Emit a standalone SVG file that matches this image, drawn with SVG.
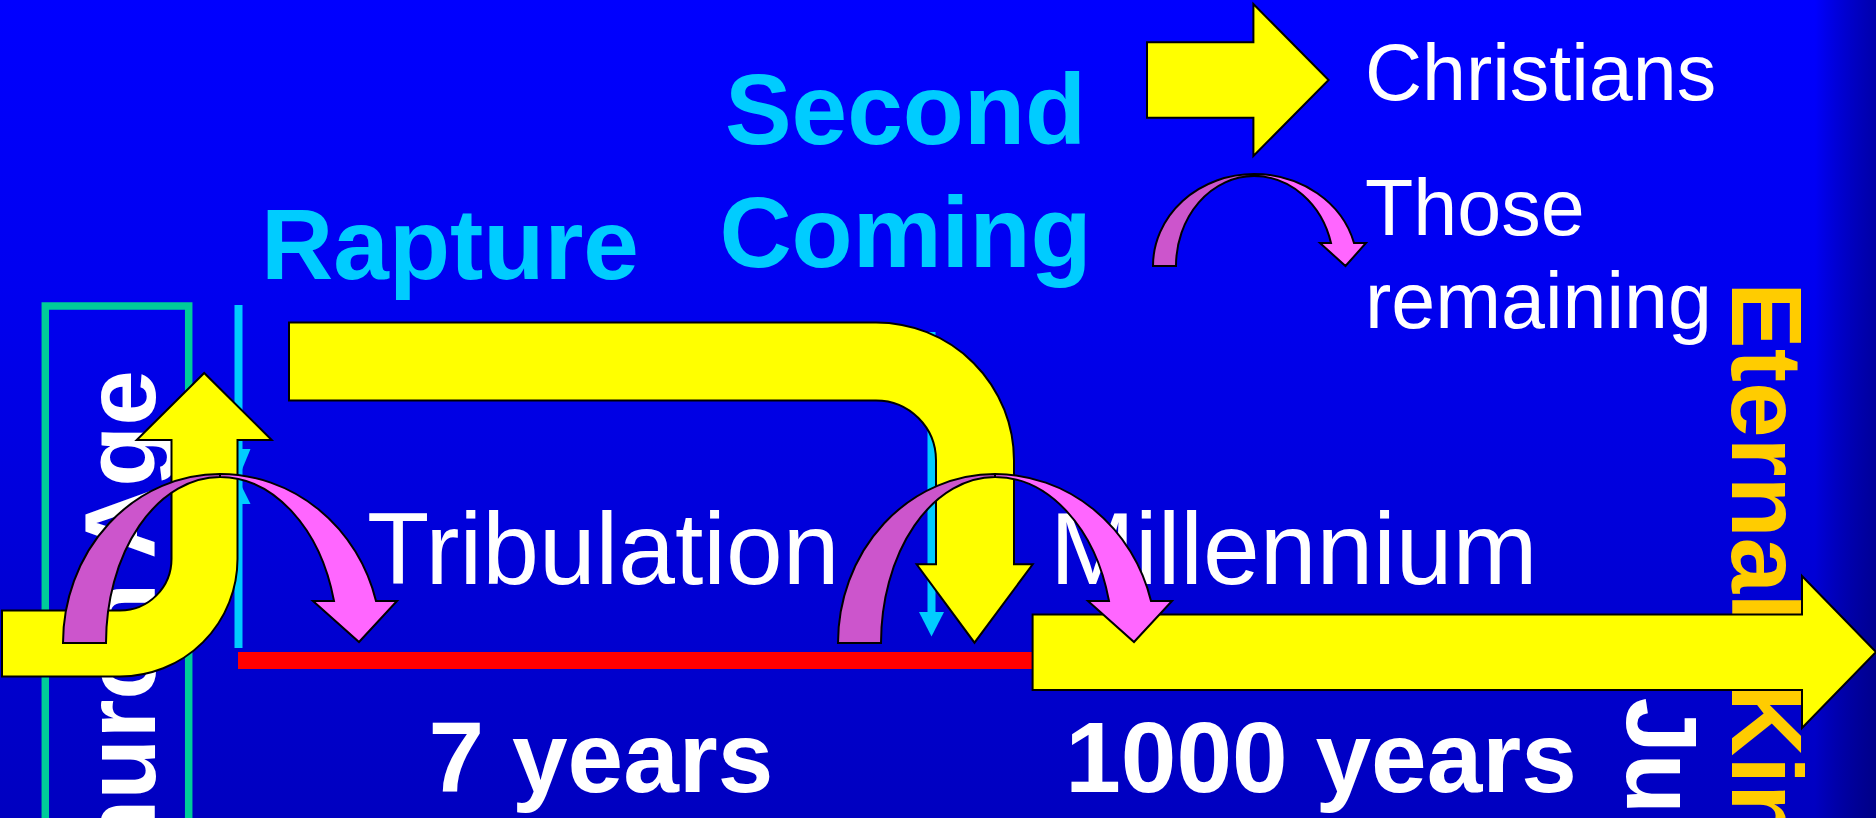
<svg xmlns="http://www.w3.org/2000/svg" xmlns:xlink="http://www.w3.org/1999/xlink" width="1876" height="818" viewBox="0 0 1876 818">
<defs>
  <linearGradient id="bg" x1="0" y1="0" x2="0" y2="1">
    <stop offset="0" stop-color="#0000FF"/>
    <stop offset="0.35" stop-color="#0000F0"/>
    <stop offset="1" stop-color="#0000C0"/>
  </linearGradient>
  <linearGradient id="edge" x1="0" y1="0" x2="1" y2="0">
    <stop offset="0" stop-color="#000000" stop-opacity="0"/>
    <stop offset="1" stop-color="#000030" stop-opacity="0.4"/>
  </linearGradient>
  <style>
    .yel{fill:#FFFF00;stroke:#000000;stroke-width:2;stroke-linejoin:miter}
    .pur{fill:#CC55CC;stroke:#000000;stroke-width:2;stroke-linejoin:miter}
    .pnk{fill:#FF66FF;stroke:#000000;stroke-width:2;stroke-linejoin:miter}
    .cy{stroke:#00CCFF;stroke-width:8;fill:none}
    .cyh{fill:#00CCFF;stroke:none}
    .t{font-family:"Liberation Sans",Arial,Helvetica,sans-serif}
    .b{font-weight:bold}
    .big{font-size:100px}
    .reg{font-size:102px}
    .w{fill:#FFFFFF}
    .c{fill:#00CCFF}
    .g{fill:#FFCC00}
    .leg{font-size:79px}
  </style>
  <g id="jump">
    <path class="pur" d="M63,643 A157,169 0 0 1 220,474 L220,477 A114,166 0 0 0 106,643 Z"/>
    <path class="pnk" d="M220,474 A161,169 0 0 1 376,601 L397,601 L359,642 L313,601 L334,601 A117.8,166 0 0 0 220,477 Z"/>
  </g>
</defs>

<rect x="0" y="0" width="1876" height="818" fill="url(#bg)"/>
<rect x="1815" y="0" width="61" height="818" fill="url(#edge)"/>

<g id="church-age">
  <rect x="45.3" y="306" width="143.4" height="530" fill="none" stroke="#00CC99" stroke-width="7.5"/>
  <text class="t b big w" text-anchor="end" transform="translate(155,370) rotate(-90)">Church Age</text>
</g>

<g id="label-rapture"><text class="t b big c" x="450" y="279" text-anchor="middle">Rapture</text></g>
<g id="label-second-coming">
  <text class="t b big c" x="905.5" y="144" text-anchor="middle">Second</text>
  <text class="t b big c" x="905.5" y="267" text-anchor="middle">Coming</text>
</g>
<g id="label-tribulation"><text class="t reg w" x="367" y="584">Tribulation</text></g>
<g id="label-millennium"><text class="t reg w" x="1050" y="584">Millennium</text></g>
<g id="label-7years"><text class="t b big w" x="601" y="792" text-anchor="middle">7 years</text></g>
<g id="label-1000years"><text class="t b big w" x="1321" y="792" text-anchor="middle">1000 years</text></g>
<g id="label-eternal"><text class="t b big g" transform="translate(1732,282) rotate(90)">Eternal <tspan x="402">Kingdom</tspan></text></g>
<g id="label-judgment"><text class="t b big w" transform="translate(1627,697.6) rotate(90)">Judgment</text></g>

<g id="legend">
  <path class="yel" d="M1147,42.3 L1253.4,42.3 L1253.4,4 L1328.6,80 L1253.4,156 L1253.4,117.7 L1147,117.7 Z"/>
  <text class="t leg w" x="1365" y="100">Christians</text>
  <path class="pur" d="M1153,266 A101,92 0 0 1 1254,174 L1254,176 A78,90 0 0 0 1176,266 Z"/>
  <path class="pnk" d="M1254,174 A103.3,92 0 0 1 1354,243 L1366,243 L1345.5,266 L1320,243 L1331,243 A79.6,90 0 0 0 1254,176 Z"/>
  <text class="t leg w" x="1365" y="235">Those</text>
  <text class="t leg w" x="1365" y="328">remaining</text>
</g>

<g id="connectors">
  <rect id="timeline" x="238" y="652" width="797" height="17" fill="#FF0000"/>
  <g id="cyan-rapture">
    <line class="cy" x1="238.5" y1="305" x2="238.5" y2="648"/>
    <polygon class="cyh" points="226.5,449 250.5,449 238.5,478"/>
    <polygon class="cyh" points="238.5,480 250.5,504 226.5,504"/>
  </g>
  <g id="cyan-second">
    <line class="cy" x1="931.5" y1="332" x2="931.5" y2="614"/>
    <polygon class="cyh" points="919,612 944,612 931.5,636.5"/>
  </g>
  <path id="arrow-up" class="yel" d="M2,610.5 L120,610.5 A51.5,51.5 0 0 0 171.5,559 L171.5,440 L136.7,440 L204.2,373 L271.7,440 L237.5,440 L237.5,559 A117.5,117.5 0 0 1 120,676.5 L2,676.5 Z"/>
  <path id="arrow-uturn" class="yel" d="M289,322.5 L876,322.5 A138,138 0 0 1 1014,460.5 L1014,564.3 L1032.7,564.3 L974.5,642.7 L916.6,564.3 L936,564.3 L936,460.5 A60,60 0 0 0 876,400.5 L289,400.5 Z"/>
  <path id="arrow-eternal" class="yel" d="M1032.6,614.5 L1802,614.5 L1802,576 L1876,652 L1802,728 L1802,690 L1032.6,690 Z"/>
  <use id="jump-rapture" xlink:href="#jump"/>
  <use id="jump-second" xlink:href="#jump" x="775"/>
</g>
</svg>
